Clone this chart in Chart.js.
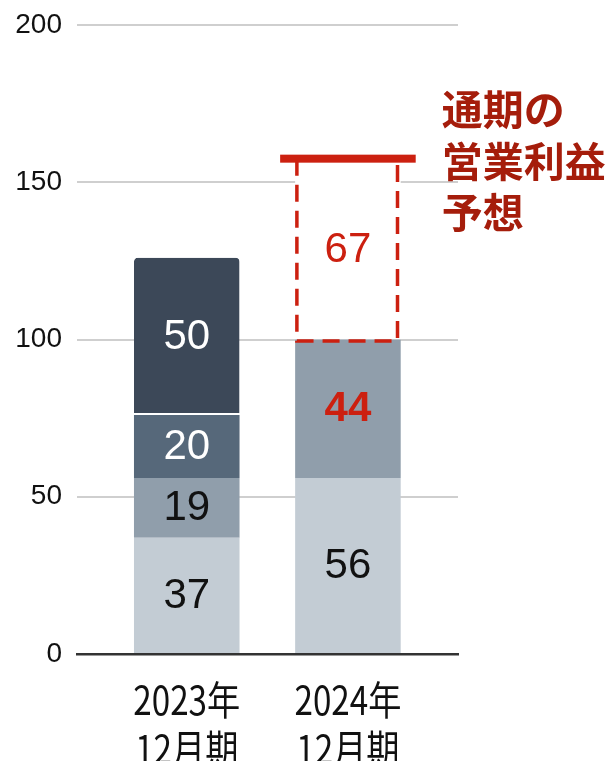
<!DOCTYPE html>
<html lang="ja">
<head>
<meta charset="utf-8">
<title>営業利益</title>
<script src="https://cdn.jsdelivr.net/npm/chart.js@4.4.1/dist/chart.umd.min.js"></script>
<style>
  html, body { margin: 0; padding: 0; background: #fff; }
  #wrap { width: 613px; height: 761px; position: relative; }
</style>
</head>
<body>
<div id="wrap"><canvas id="chart"></canvas></div>
<script>
// --- Data ---
const periods = [['2023年', '12月期'], ['2024年', '12月期']];
const baseSeg = [37, 56];
const midSeg = [19, 44];
const upperSeg = [20, null];
const topSeg = [50, null];
const forecastSeg = [null, 57.5];   // height of the dashed box as drawn
const forecastLabels = ['', '67'];
const noteLines = ['通期の', '営業利益', '予想'];
const yTicks = [0, 50, 100, 150, 200];

// --- Colours ---
const RED = '#cc2010';
const NOTE_RED = '#a51d0b';
const NUM_FONT = '"Liberation Sans", Arial, sans-serif';

function toPoints(values) {
  return values.map((v, i) => ({ x: i, y: v }));
}

// --- Plugins ---
const forecastMarks = {
  id: 'forecastMarks',
  afterDatasetsDraw(chart) {
    const idx = chart.data.datasets.findIndex((d) => d.isForecast);
    const meta = chart.getDatasetMeta(idx);
    const ctx = chart.ctx;
    meta.data.forEach((el, i) => {
      if (forecastSeg[i] == null) return;
      const left = el.x - el.width / 2;
      const right = el.x + el.width / 2;
      const bottom = el.base + 1.5;

      // dashed outline (top edge is the solid forecast line)
      ctx.save();
      ctx.strokeStyle = RED;
      ctx.lineWidth = 3.5;
      ctx.setLineDash([17, 9]);
      ctx.beginPath();
      ctx.moveTo(left + 1.75, el.y);
      ctx.lineTo(left + 1.75, bottom);
      ctx.lineTo(right - 3.2, bottom);
      ctx.lineTo(right - 3.2, el.y);
      ctx.stroke();
      ctx.restore();

      // solid forecast line
      ctx.fillStyle = RED;
      ctx.fillRect(left - 15, el.y - 4, el.width + 30, 8);

      // note text
      ctx.save();
      ctx.fillStyle = NOTE_RED;
      ctx.font = 'bold 41px "Noto Sans CJK JP", sans-serif';
      ctx.textAlign = 'left';
      ctx.textBaseline = 'middle';
      noteLines.forEach((line, k) => {
        ctx.fillText(line, right + 41, el.y - 49 + k * 51.5);
      });
      ctx.restore();
    });
  },
};

const segmentLabels = {
  id: 'segmentLabels',
  afterDatasetsDraw(chart) {
    const ctx = chart.ctx;
    chart.data.datasets.forEach((ds, di) => {
      const meta = chart.getDatasetMeta(di);
      meta.data.forEach((el, i) => {
        const raw = ds.data[i].y;
        if (raw == null) return;
        const text = ds.labelText ? ds.labelText[i] : String(raw);
        const style = ds.labelStyle[i];
        ctx.save();
        ctx.fillStyle = style.color;
        ctx.font = (style.bold ? 'bold ' : '') + '42px ' + NUM_FONT;
        ctx.textAlign = 'center';
        ctx.textBaseline = 'middle';
        ctx.fillText(text, el.x, (el.y + el.base) / 2 + 1);
        ctx.restore();
      });
    });
  },
};

// period labels are set in a condensed gothic in the original
const periodLabels = {
  id: 'periodLabels',
  afterDraw(chart) {
    const scale = chart.scales.x;
    const ctx = chart.ctx;
    ctx.save();
    ctx.fillStyle = '#111';
    ctx.font = '40px "Noto Sans CJK JP", sans-serif';
    ctx.textAlign = 'center';
    ctx.textBaseline = 'middle';
    scale.ticks.forEach((t) => {
      const x = scale.getPixelForValue(t.value);
      periods[t.value].forEach((line, k) => {
        ctx.save();
        ctx.translate(x, scale.top + 46 + k * 49);
        ctx.scale(0.83, 1);
        ctx.fillText(line, 0, 0);
        ctx.restore();
      });
    });
    ctx.restore();
  },
};

// --- Chart ---
const ctx = document.getElementById('chart').getContext('2d');
new Chart(ctx, {
  type: 'bar',
  data: {
    datasets: [
      {
        data: toPoints(baseSeg),
        backgroundColor: '#c3ccd4',
        labelStyle: [{ color: '#111' }, { color: '#111' }],
      },
      {
        data: toPoints(midSeg),
        backgroundColor: '#909eab',
        labelStyle: [{ color: '#111' }, { color: RED, bold: true }],
      },
      {
        data: toPoints(upperSeg),
        backgroundColor: '#56687a',
        labelStyle: [{ color: '#fff' }, { color: '#fff' }],
      },
      {
        data: toPoints(topSeg),
        backgroundColor: '#3c4858',
        borderColor: '#fff',
        borderWidth: { top: 0, left: 0, right: 0, bottom: 2 },
        borderSkipped: false,
        borderRadius: { topLeft: 4, topRight: 4, bottomLeft: 0, bottomRight: 0 },
        labelStyle: [{ color: '#fff' }, { color: '#fff' }],
      },
      {
        data: toPoints(forecastSeg),
        backgroundColor: '#fff',
        isForecast: true,
        labelText: forecastLabels,
        labelStyle: [{ color: RED }, { color: RED }],
      },
    ],
  },
  options: {
    responsive: true,
    maintainAspectRatio: false,
    animation: false,
    events: [],
    barPercentage: 0.655,
    categoryPercentage: 1,
    layout: { padding: { top: 25, right: 155, left: 0, bottom: 0 } },
    plugins: {
      legend: { display: false },
      tooltip: { enabled: false },
    },
    scales: {
      x: {
        type: 'linear',
        stacked: true,
        offset: false,
        min: -0.681,
        max: 1.683,
        z: 1,
        grid: { display: false, offset: false },
        border: { display: true, color: '#333', width: 2.5 },
        afterBuildTicks: (scale) => {
          scale.ticks = periods.map((_, i) => ({ value: i }));
        },
        afterFit: (scale) => {
          scale.height = 107;
          scale.paddingLeft = 0;
          scale.paddingRight = 0;
        },
        ticks: { display: false },
      },
      y: {
        stacked: true,
        min: 0,
        max: 200,
        afterBuildTicks: (scale) => {
          scale.ticks = yTicks.map((v) => ({ value: v }));
        },
        afterFit: (scale) => {
          scale.width = 77;
          scale.paddingTop = 0;
          scale.paddingBottom = 0;
        },
        border: { display: false },
        grid: {
          drawTicks: false,
          lineWidth: 2,
          color: (c) => (c.tick && c.tick.value === 0 ? 'rgba(0,0,0,0)' : '#cfcfcf'),
        },
        ticks: {
          padding: 15,
          color: '#111',
          font: { family: NUM_FONT, size: 28 },
        },
      },
    },
  },
  plugins: [forecastMarks, segmentLabels, periodLabels],
});
</script>
</body>
</html>
